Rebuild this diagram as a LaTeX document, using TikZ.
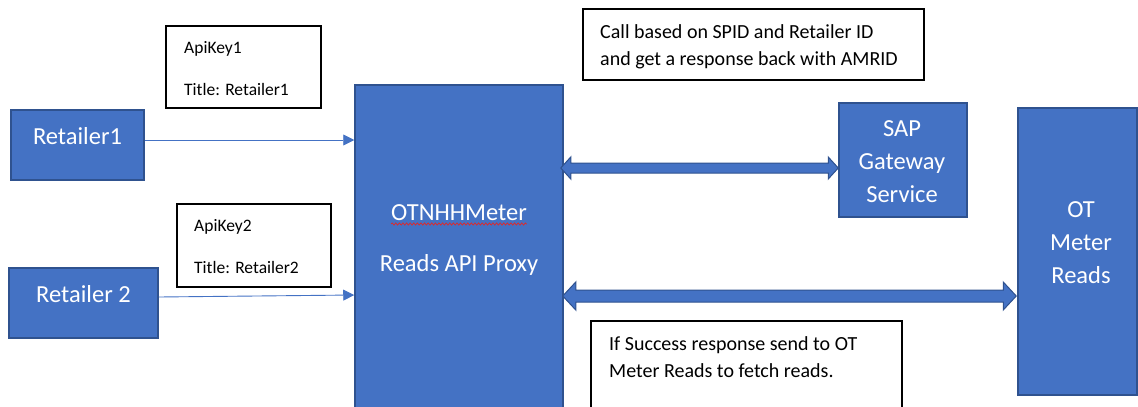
\documentclass[tikz,border=0pt]{standalone}
\usepackage{fontspec}
\setmainfont{Carlito}
\usetikzlibrary{arrows.meta,calc,decorations.pathmorphing}
\definecolor{boxblue}{HTML}{4472C4}
\definecolor{boxedge}{HTML}{2F528F}
\definecolor{spellred}{HTML}{E02828}

% horizontal double block arrow between two points:
% #1 left tip, #2 right tip, #3 shaft half width, #4 head half width, #5 head length
\newcommand{\dblockarrow}[5]{%
  \path[blockarrow] let \p1=(#1), \p2=(#2) in
    (\x1,\y1) -- (\x1+#5pt,\y1+#4pt) -- (\x1+#5pt,\y1+#3pt)
    -- (\x2-#5pt,\y2+#3pt) -- (\x2-#5pt,\y2+#4pt) -- (\x2,\y2)
    -- (\x2-#5pt,\y2-#4pt) -- (\x2-#5pt,\y2-#3pt)
    -- (\x1+#5pt,\y1-#3pt) -- (\x1+#5pt,\y1-#4pt) -- cycle;}

\begin{document}
\begin{tikzpicture}[x=1pt,y=-1pt,
  bluebox/.style={draw=boxedge, fill=boxblue, line width=1.5pt, inner sep=0pt},
  notebox/.style={draw=black, fill=white, line width=1.6pt, inner sep=0pt},
  whitetext/.style={text=white, font=\fontsize{24.5}{30}\selectfont, inner sep=0pt, anchor=base},
  notetext/.style={text=black, font=\fontsize{17.5}{21}\selectfont, inner sep=0pt, anchor=base west},
  calltext/.style={text=black, font=\fontsize{20}{24}\selectfont, inner sep=0pt, anchor=base west},
  thinarrow/.style={draw=boxblue, line width=0.9pt, -{Triangle[length=11pt,width=11pt]}},
  blockarrow/.style={draw=boxedge, fill=boxblue, line width=1pt, line join=miter}]

\useasboundingbox (0,0) rectangle (1138,407);

% retailer boxes
\node[bluebox, minimum width=133pt, minimum height=70pt] (r1) at (77.5,145) {};
\node[whitetext] (r1t) at (77.5,144) {Retailer1};
\node[bluebox, minimum width=149pt, minimum height=70pt] (r2) at (83.5,303) {};
\node[whitetext] (r2t) at (83.5,302) {Retailer 2};

% api key notes
\node[notebox, minimum width=155pt, minimum height=82pt] (k1) at (243.5,67) {};
\node[notetext] (k1a) at (184,53) {ApiKey1};
\node[notetext] (k1b) at (184,95) {Title: Retailer1};
\node[notebox, minimum width=154pt, minimum height=83pt] (k2) at (254,245.5) {};
\node[notetext] (k2a) at (194,231) {ApiKey2};
\node[notetext] (k2b) at (194,273) {Title: Retailer2};

% proxy
\node[bluebox, minimum width=208pt, minimum height=330pt] (main) at (459,250) {};
\node[whitetext] (mt1) at (459,220) {OTNHHMeter};
\node[whitetext] (mt2) at (459,271) {Reads API Proxy};
\draw[spellred, line width=0.7pt, decorate,
      decoration={snake, amplitude=1.1pt, segment length=3.6pt}]
  ($(mt1.base west)+(0,4)$) -- ($(mt1.base east)+(0,4)$);

% SAP gateway
\node[bluebox, minimum width=128pt, minimum height=114pt] (sap) at (903,160) {};
\node[whitetext] (sap1) at (902,136) {SAP};
\node[whitetext] (sap2) at (902,169) {Gateway};
\node[whitetext] (sap3) at (902,202) {Service};

% OT meter reads
\node[bluebox, minimum width=119pt, minimum height=287pt] (ot) at (1077.5,251.5) {};
\node[whitetext] (ot1) at (1081,217) {OT};
\node[whitetext] (ot2) at (1081,250) {Meter};
\node[whitetext] (ot3) at (1081,283) {Reads};

% call notes
\node[notebox, minimum width=341pt, minimum height=71pt] (c1) at (753.5,44.5) {};
\node[calltext] (c1a) at (600,38) {Call based on SPID and Retailer ID};
\node[calltext] (c1b) at (600,65) {and get a response back with AMRID};
\node[notebox, minimum width=311pt, minimum height=100pt] (c2) at (746.5,371) {};
\node[calltext] (c2a) at (609,350) {If Success response send to OT};
\node[calltext] (c2b) at (609,377) {Meter Reads to fetch reads.};

% retailer requests
\coordinate (r1out) at ($(r1.east)+(0,-5)$);
\draw[thinarrow] (r1out) -- (main.west |- r1out);
\coordinate (r2out) at ($(r2.east)+(0,-6)$);
\coordinate (r2in) at ($(main.west)+(0,45)$);
\draw[thinarrow] (r2out) -- (r2in);

% proxy <-> SAP, proxy <-> OT
\coordinate (sapin) at ($(sap.west)+(0,8)$);
\coordinate (sapfrom) at ($(main.east |- sapin)+(-3,0)$);
\dblockarrow{sapfrom}{sapin}{5}{11}{10}
\coordinate (otin) at ($(ot.west)+(-1,44.5)$);
\coordinate (otfrom) at ($(main.east |- otin)+(-1,0)$);
\dblockarrow{otfrom}{otin}{6}{14}{13}
\end{tikzpicture}
\end{document}
